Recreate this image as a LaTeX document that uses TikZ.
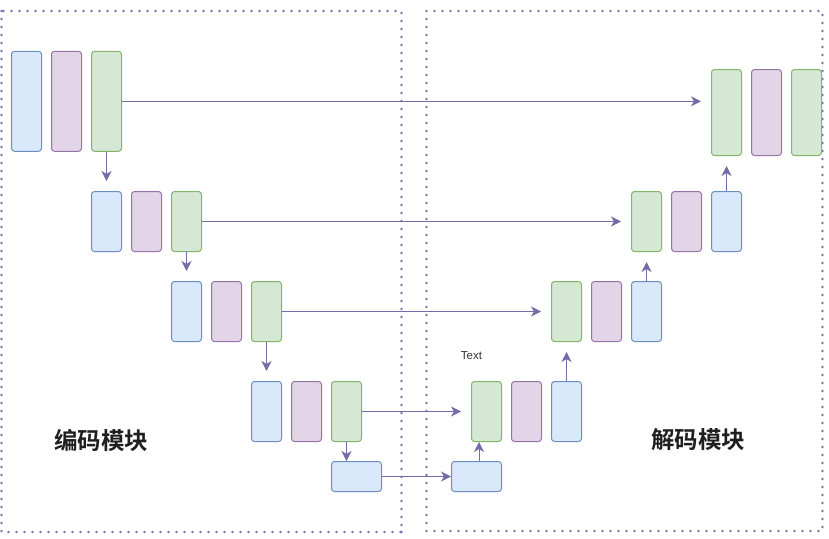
\documentclass[tikz,border=0pt]{standalone}
\usepackage{fontspec}
\setmainfont{Liberation Sans}
\newfontfamily\cjkfont{Noto Sans CJK SC}[BoldFont={Noto Sans CJK SC Bold}]
\usetikzlibrary{arrows.meta}
\definecolor{bfill}{HTML}{DAE8FC}\definecolor{bdraw}{HTML}{6C8EBF}
\definecolor{pfill}{HTML}{E1D5E7}\definecolor{pdraw}{HTML}{9673A6}
\definecolor{gfill}{HTML}{D5E8D4}\definecolor{gdraw}{HTML}{82B366}
\definecolor{arrcol}{HTML}{736CA8}
\definecolor{dotcol}{HTML}{7A74B4}
\definecolor{txtcol}{HTML}{333333}
\tikzset{
  blk/.style={rounded corners=3pt, line width=1pt, inner sep=0pt, minimum width=30pt, minimum height=60pt},
  tall/.style={minimum height=100pt},
  top/.style={minimum height=86pt},
  wide/.style={minimum width=50pt, minimum height=30pt},
  bb/.style={blk, fill=bfill, draw=bdraw},
  pb/.style={blk, fill=pfill, draw=pdraw},
  gb/.style={blk, fill=gfill, draw=gdraw},
  arr/.style={draw=arrcol, line width=1pt, -{Stealth[length=10pt,width=10pt,inset=3pt]}},
  frame/.style={draw=dotcol, line width=2.6pt, line cap=round, dash pattern=on 0pt off 8pt},
  title/.style={font=\cjkfont\bfseries\fontsize{23.5pt}{26pt}\selectfont, text=black!88},
}
\begin{document}
\begin{tikzpicture}[x=1pt,y=-1pt]
\useasboundingbox (0,0) rectangle (829,538);
% frames
\draw[frame] (1.5,11) rectangle (401.5,532);
\draw[frame] (401.5,532) -- (401.5,536);
\draw[frame] (426.5,11) rectangle (822.5,531);
% encoder
\node[bb,tall] (e1b) at (26.5,101.3) {};
\node[pb,tall] (e1p) at (66.5,101.3) {};
\node[gb,tall] (e1g) at (106.5,101.3) {};
\node[bb] (e2b) at (106.5,221.5) {};
\node[pb] (e2p) at (146.5,221.5) {};
\node[gb] (e2g) at (186.5,221.5) {};
\node[bb] (e3b) at (186.5,311.5) {};
\node[pb] (e3p) at (226.5,311.5) {};
\node[gb] (e3g) at (266.5,311.5) {};
\node[bb] (e4b) at (266.5,411.5) {};
\node[pb] (e4p) at (306.5,411.5) {};
\node[gb] (e4g) at (346.5,411.5) {};
\node[bb,wide] (eb) at (356.5,476.5) {};
% decoder
\node[bb,wide] (db) at (476.5,476.5) {};
\node[gb] (d4g) at (486.5,411.5) {};
\node[pb] (d4p) at (526.5,411.5) {};
\node[bb] (d4b) at (566.5,411.5) {};
\node[gb] (d3g) at (566.5,311.5) {};
\node[pb] (d3p) at (606.5,311.5) {};
\node[bb] (d3b) at (646.5,311.5) {};
\node[gb] (d2g) at (646.5,221.5) {};
\node[pb] (d2p) at (686.5,221.5) {};
\node[bb] (d2b) at (726.5,221.5) {};
\node[gb,top] (d1g) at (726.5,112.5) {};
\node[pb,top] (d1p) at (766.5,112.5) {};
\node[gb,top] (d1x) at (806.5,112.5) {};
% skip connections
\draw[arr, shorten >=10pt] (e1g.east) -- (d1g.west |- e1g.east);
\draw[arr, shorten >=10pt] (e2g.east) -- (d2g.west);
\draw[arr, shorten >=10pt] (e3g.east) -- (d3g.west);
\draw[arr, shorten >=10pt] (e4g.east) -- (d4g.west);
\draw[arr] (eb.east) -- (db.west);
% down
\draw[arr, shorten >=10pt] (e1g.south) -- (e1g.south |- e2g.north);
\draw[arr, shorten >=10pt] (e2g.south) -- (e2g.south |- e3g.north);
\draw[arr, shorten >=10pt] (e3g.south) -- (e3g.south |- e4g.north);
\draw[arr] (e4g.south) -- (e4g.south |- eb.north);
% up
\draw[arr] ([xshift=2.5pt]db.north) -- ([xshift=2.5pt]db.north |- d4g.south);
\draw[arr, shorten >=10pt] (d4b.north) -- (d4b.north |- d3b.south);
\draw[arr, shorten >=10pt] (d3b.north) -- (d3b.north |- d2b.south);
\draw[arr, shorten >=10pt] (d2b.north) -- (d2b.north |- d1g.south);
% labels
\node[font=\fontsize{11.5pt}{13pt}\selectfont, text=txtcol] (lt) at (471.5,355.5) {Text};
\node[title] (lenc) at (101,440) {编码模块};
\node[title] (ldec) at (698,440) {解码模块};
\end{tikzpicture}
\end{document}
